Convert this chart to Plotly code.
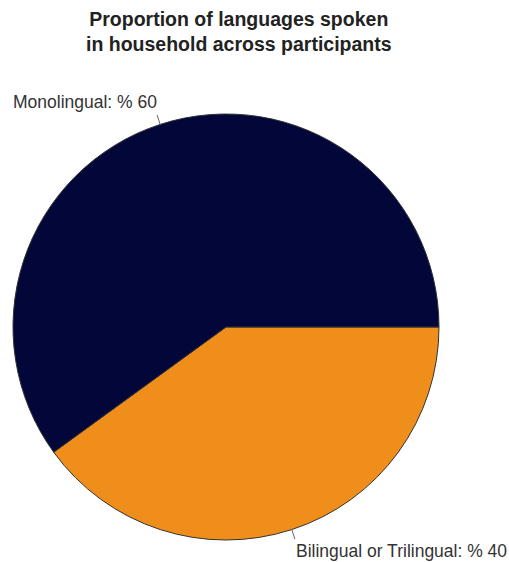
import math
import plotly.graph_objects as go

labels = ["Bilingual or Trilingual", "Monolingual"]
values = [40, 60]
colors = ["#ef8e1a", "#020638"]
title_text = "Proportion of languages spoken<br>in household across participants"

W, H = 509, 562
cx_px, cy_px, r_px = 226, 327, 213
rotation = 90

fig = go.Figure(go.Pie(
    labels=labels, values=values, sort=False, direction="clockwise",
    rotation=rotation, textinfo="none", hoverinfo="label+percent",
    marker=dict(colors=colors, line=dict(color="#333333", width=1)),
    domain=dict(x=[(cx_px - r_px) / W, (cx_px + r_px) / W],
                y=[1 - (cy_px + r_px) / H, 1 - (cy_px - r_px) / H]),
    showlegend=False,
))

total = sum(values)
cum = 0
shapes, annotations = [], []
for lab, v in zip(labels, values):
    mid = cum + v / 2
    cum += v
    ang = math.radians(90 - rotation - 360 * mid / total)
    c, s = math.cos(ang), math.sin(ang)
    x0, y0 = cx_px + r_px * c, cy_px - r_px * s
    x1, y1 = cx_px + (r_px + 10) * c, cy_px - (r_px + 10) * s
    shapes.append(dict(type="line", xref="paper", yref="paper",
                       x0=x0 / W, y0=1 - y0 / H, x1=x1 / W, y1=1 - y1 / H,
                       line=dict(color="#666666", width=1)))
    pct = round(100 * v / total)
    annotations.append(dict(
        xref="paper", yref="paper", x=(x1 + (-1 if c > 0 else 2)) / W,
        y=1 - (y1 + (-1 if s > 0 else 0)) / H,
        xanchor="left" if c > 0 else "right",
        yanchor="bottom" if s > 0 else "top",
        text=f"{lab}: % {pct}", showarrow=False,
        font=dict(family="Liberation Sans, Arial", size=17.5, color="#333333"),
    ))

annotations.append(dict(
    xref="paper", yref="paper", x=239 / W, y=1 - 6 / H,
    xanchor="center", yanchor="top", showarrow=False,
    text=f"<b>{title_text}</b>",
    font=dict(family="Liberation Sans, Arial", size=19.5, color="#222222"),
))

fig.update_layout(
    width=W, height=H, margin=dict(l=0, r=0, t=0, b=0),
    paper_bgcolor="white", plot_bgcolor="white",
    shapes=shapes, annotations=annotations,
)
fig.write_html("out.html")
